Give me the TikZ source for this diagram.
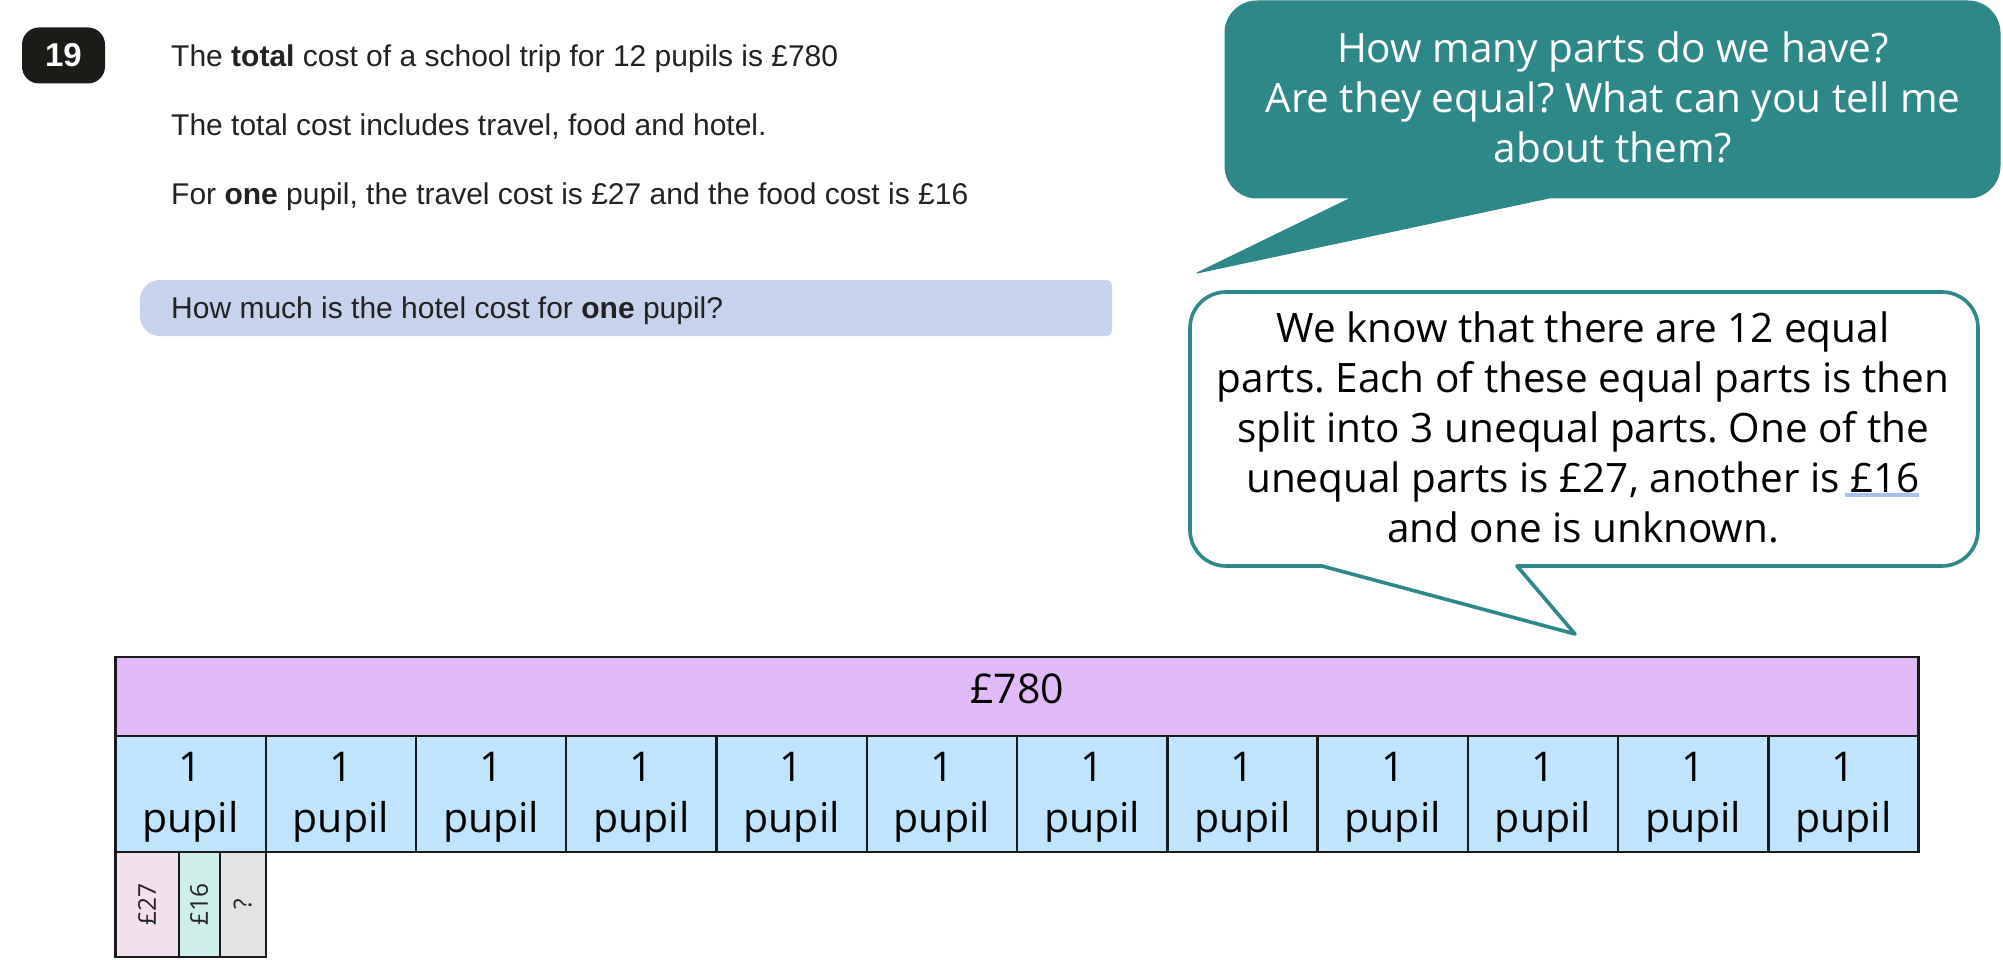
\documentclass[tikz,border=0pt]{standalone}
\usepackage{fontspec}
\setmainfont{Liberation Sans}
\newfontfamily\bubblefont{Open Sans}
\frenchspacing
\definecolor{tealfill}{HTML}{2E8888}
\definecolor{badgeblack}{HTML}{1D1B18}
\definecolor{bandblue}{HTML}{C7D2EC}
\definecolor{purplebar}{HTML}{E1BBF8}
\definecolor{bluecell}{HTML}{C0E4FE}
\definecolor{pinkcell}{HTML}{F2E0EC}
\definecolor{mintcell}{HTML}{CFEEEA}
\definecolor{greycell}{HTML}{E3E3E3}
\definecolor{inkline}{HTML}{1A1A1A}
\definecolor{spellblue}{HTML}{A8C0F0}
\definecolor{qtext}{HTML}{222222}
\tikzset{
  question/.style={anchor=west,inner sep=0pt,text=qtext,font=\fontsize{30}{34}\selectfont},
  barcell/.style={draw=inkline,line width=2.4pt,anchor=north west,inner sep=0pt,outer sep=0pt,align=center,
    font=\bubblefont\fontsize{41}{51}\selectfont,text=black},
  pupilcell/.style={barcell,fill=bluecell,minimum width=150.26pt,minimum height=116pt},
  smallcell/.style={barcell,minimum height=105pt},
  smalllabel/.style={rotate=90,inner sep=0pt,text=qtext,font=\bubblefont\fontsize{24.5}{26}\selectfont},
  bubbletext/.style={inner sep=0pt,align=center,font=\bubblefont\fontsize{40.5}{50}\selectfont},
}
\begin{document}
\begin{tikzpicture}[x=1pt,y=-1pt]
\useasboundingbox (0,0) rectangle (2003,960);
% badge
\node[fill=badgeblack,rounded corners=17pt,minimum width=83pt,minimum height=56pt,inner sep=0pt,text=white,font=\bfseries\fontsize{33}{36}\selectfont] (badge) at (63.5,55.5) {19};
% question
\node[question] (q1) at (171,59) {The \textbf{total} cost of a school trip for 12 pupils is £780};
\node[question] (q2) at (171,127) {The total cost includes travel, food and hotel.};
\node[question] (q3) at (171,197) {For \textbf{one} pupil, the travel cost is £27 and the food cost is £16};
\path[fill=bandblue] (1112,285) [rounded corners=5pt] -- (1112,280) [rounded corners=20pt] -- (140,280) -- (140,336) [rounded corners=5pt] -- (1112,336) [sharp corners] -- (1112,285);
\node[question] (q4) at (171,311) {How much is the hotel cost for \textbf{one} pupil?};
% teal bubble
\coordinate (tealtip) at (1197,273);
\path[fill=tealfill,draw=tealfill,line width=1pt,line join=round] (1351,198) -- (tealtip) -- (1549,198) [rounded corners=32pt] -- (2000,198) -- (2000,1) -- (1225,1) -- (1225,198) [sharp corners] -- (1351,198);
\node[bubbletext,text=white] (tealtext) at (1613,97.5) {How many parts do we have?\\Are they equal? What can you tell me\\about them?};
% white bubble
\coordinate (whitetip) at (1575,634);
\path[fill=white,draw=tealfill,line width=3.6pt,line join=round] (1322,566) -- (whitetip) -- (1517,566) [rounded corners=36pt] -- (1978,566) -- (1978,292) -- (1190,292) -- (1190,566) [sharp corners] -- (1322,566);
\node[bubbletext,text=black] (whitetext) at (1583,427) {We know that there are 12 equal\\parts. Each of these equal parts is then\\split into 3 unequal parts. One of the\\unequal parts is £27, another is £16\\and one is unknown.};
\coordinate (spellA) at (1845,495);
\coordinate (spellB) at (1919,495);
\draw[spellblue,line width=4pt] (spellA) -- (spellB);
% bar model
\node[barcell,fill=purplebar,minimum width=1803.1pt,minimum height=79pt,text depth=15pt] (total) at (115.5,657) {£780};
\foreach \i in {0,...,11}{
  \node[pupilcell,text depth=3pt] (pupil\i) at ({115.5+150.26*\i},736) {1\\pupil};
}
\node[smallcell,fill=pinkcell,minimum width=63.2pt] (c27) at (115.5,852) {};
\node[smallcell,fill=mintcell,minimum width=41pt] (c16) at (178.7,852) {};
\node[smallcell,fill=greycell,minimum width=46pt] (cq) at (219.7,852) {};
\node[smalllabel] (l27) at (c27) {£27};
\node[smalllabel] (l16) at (c16) {£16};
\node[smalllabel] (lq) at (cq) {?};
\end{tikzpicture}
\end{document}
